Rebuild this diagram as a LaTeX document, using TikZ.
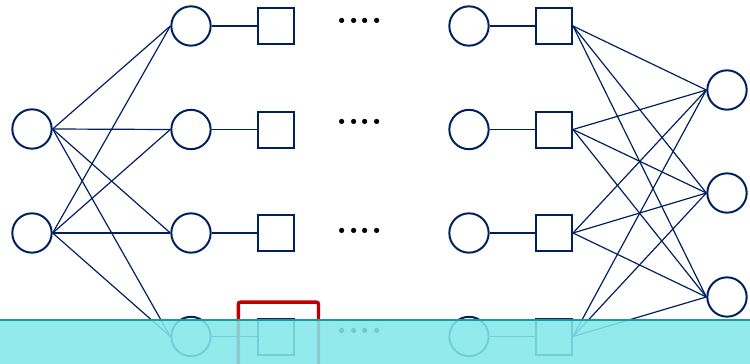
\documentclass[tikz,border=0pt]{standalone}
\usepackage{tikz}

\definecolor{navy}{RGB}{0,32,96}
\definecolor{darkred}{RGB}{192,0,0}
\definecolor{veil}{RGB}{132,231,235}
\definecolor{rim}{RGB}{26,155,158}

\tikzset{every picture/.style={line width=0.75pt},
  unit/.style={circle, draw=navy, line width=1.5pt, minimum size=29.5pt, inner sep=0pt},
  gate/.style={rectangle, draw=navy, line width=1.5pt, minimum size=27pt, inner sep=0pt},
  wire/.style={draw=navy, line width=0.9pt},
  gap/.style={anchor=base, inner sep=0pt, font=\fontsize{27}{27}\selectfont\bfseries}
}

\begin{document}
\begin{tikzpicture}[x=0.75pt,y=0.75pt,yscale=-1,xscale=1]
\useasboundingbox (0,0) rectangle (750,364);

% Input units
\node [unit] (in1) at (32,129) {};
\node [unit] (in2) at (32,233) {};

% First column of units
\node [unit] (h1) at (191,26) {};
\node [unit] (h2) at (191,129.5) {};
\node [unit] (h3) at (191,233) {};
\node [unit] (h4) at (191,336.5) {};

% First column of gates
\node [gate] (s1) at (276,26) {};
\node [gate] (s2) at (276,129.5) {};
\node [gate] (s3) at (276,233) {};
\node [gate] (s4) at (276,336.5) {};

% Ellipsis between columns
\node [gap] (d1) at (359.5,23.8) {.\kern0.3pt.\kern0.3pt.\kern0.3pt.};
\node [gap] (d2) at (359.5,124) {.\kern0.3pt.\kern0.3pt.\kern0.3pt.};
\node [gap] (d3) at (359.5,233.4) {.\kern0.3pt.\kern0.3pt.\kern0.3pt.};
\node [gap] (d4) at (359.5,333) {.\kern0.3pt.\kern0.3pt.\kern0.3pt.};

% Last column of units
\node [unit] (r1) at (469,26) {};
\node [unit] (r2) at (469,129.5) {};
\node [unit] (r3) at (469,233) {};
\node [unit] (r4) at (469,336.5) {};

% Last column of gates
\node [gate] (t1) at (554,26) {};
\node [gate] (t2) at (554,129.5) {};
\node [gate] (t3) at (554,233) {};
\node [gate] (t4) at (554,336.5) {};

% Output units
\node [unit] (out1) at (727,90) {};
\node [unit] (out2) at (727,193) {};
\node [unit] (out3) at (727,297) {};

%Straight Lines: input to first column
\draw [wire] (in1.east) -- (h1.west);
\draw [wire] (in1.east) -- (h2.west);
\draw [wire] (in1.east) -- (h3.west);
\draw [wire] (in1.east) -- (h4.west);
\draw [wire] (in2.east) -- (h1.west);
\draw [wire] (in2.east) -- (h2.west);
\draw [wire] (in2.east) -- (h3.west);
\draw [wire] (in2.east) -- (h4.west);

%Straight Lines: unit to gate
\draw [wire] (h1) -- (s1);
\draw [wire] (h2) -- (s2);
\draw [wire] (h3) -- (s3);
\draw [wire] (h4) -- (s4);
\draw [wire] (r1) -- (t1);
\draw [wire] (r2) -- (t2);
\draw [wire] (r3) -- (t3);
\draw [wire] (r4) -- (t4);

%Straight Lines: last gates to outputs
\draw [wire] (t1.east) -- (out1.west);
\draw [wire] (t1.east) -- (out2.west);
\draw [wire] (t1.east) -- (out3.west);
\draw [wire] (t2.east) -- (out1.west);
\draw [wire] (t2.east) -- (out2.west);
\draw [wire] (t2.east) -- (out3.west);
\draw [wire] (t3.east) -- (out1.west);
\draw [wire] (t3.east) -- (out2.west);
\draw [wire] (t3.east) -- (out3.west);
\draw [wire] (t4.east) -- (out1.west);
\draw [wire] (t4.east) -- (out2.west);
\draw [wire] (t4.east) -- (out3.west);

% Red bracket
\draw [darkred, line width=2.6pt, rounded corners=1.5pt] (238.3,364) -- (238.3,302.2) -- (318.5,302.2) -- (318.5,364);

% Bottom band
\fill [veil, opacity=0.88] (0,320) rectangle (750,364);
\draw [rim, line width=2pt] (0,320) -- (750,320);

\end{tikzpicture}
\end{document}
